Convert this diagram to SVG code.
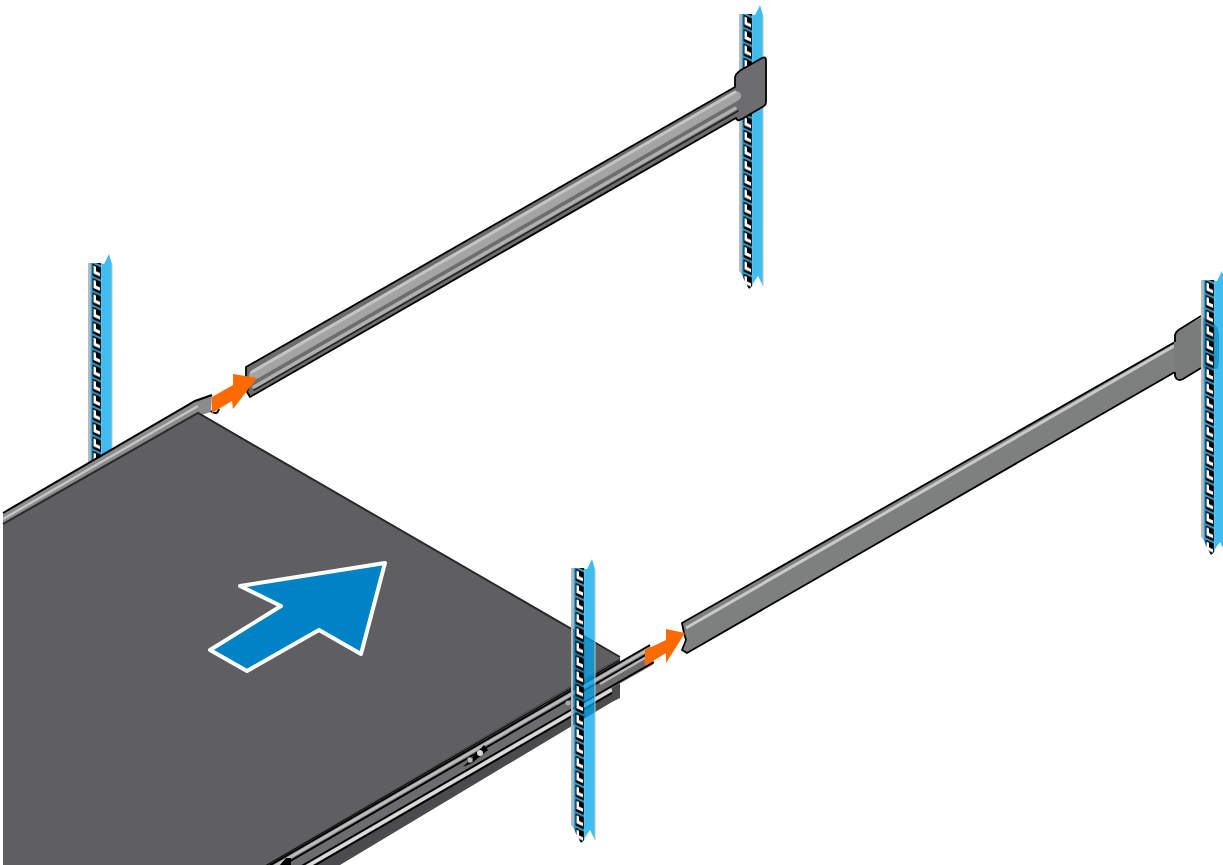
<svg xmlns="http://www.w3.org/2000/svg" width="1223" height="865" viewBox="0 0 1223 865">
<style>
.k{fill:none;stroke:#000}
.orange{fill:#ff6a00}
</style>
<defs>
<clipPath id="railEnd"><path d="M200 640H653L654 664 612 688 612 700 200 940Z"/></clipPath>
<pattern id="holes" width="14" height="14.4" patternUnits="userSpaceOnUse" x="0" y="0">
<path d="M4.500 0.500L12.800 4.200V16.500L4.500 12.800Z M4.500 -13.900L12.800 -10.200V2.100L4.500 -1.600Z" fill="#000"/>
<path d="M5.500 2.500L8 3.600V8.200L12 10V13.400L5.500 10.500Z" fill="#fff"/>
<path d="M5.500 -11.900L8 -10.800V-6.200L12 -4.400V-1L5.500 -3.900Z" fill="#fff"/>
</pattern>
<g id="rackBack">
<path d="M0 0H2.500V260L0 257Z" fill="#b7b9ba"/>
<path d="M2.500 0H13.500V272L10 275 2.500 260Z" fill="#0088c8" fill-opacity=".8"/>
<path d="M13.500 1H16L21 -9 24 1V272L19 262 13.500 270Z" fill="#00a7eb" fill-opacity=".75"/>
<path d="M24 1V272" stroke="#b7c4c9" stroke-width="1" fill="none"/>
</g>
<g id="rackHoles"><path d="M2 0H13V272L10 275 2 260Z" fill="url(#holes)"/></g>
</defs>
<rect width="1223" height="865" fill="#fff"/>

<g id="rack-rear-right">
<use href="#rackBack" x="739" y="14"/>
<use href="#rackHoles" x="739" y="14"/>
</g>
<g id="rack-rear-left">
<use href="#rackBack" x="88" y="263"/>
<use href="#rackHoles" x="88" y="263"/>
</g>

<g id="rail-rear">
<path d="M246 367L735 87V78Q735 74 741 70L762 58Q766 56 766 60V102Q766 105 764 106L742 119Q737 122 736 118L250 397 247 392 251 381 246 377Z" fill="#6d6d6f" stroke="#000" stroke-width="1.800" stroke-linejoin="round"/>
<path d="M254 375L736 96" stroke="#a4a4a5" stroke-width="10" fill="none" stroke-linecap="round"/>
<path d="M252 372L735 92" stroke="#c4c4c5" stroke-width="3" fill="none" stroke-linecap="round"/>
<path d="M254 387L735 108.500" stroke="#b0b0b0" stroke-width="3.500" fill="none" stroke-linecap="round"/>
<path d="M254 390L738 111" stroke="#222" stroke-width="1.500" fill="none" stroke-linecap="round"/>
</g>

<g id="server">
<path d="M3 513L195 401 212 395 211 412 198 416 3 530Z" fill="#8b8b8c"/>
<path d="M3 513L195 401 212 395" class="k" stroke-width="2"/>
<path d="M3 519L198 406" stroke="#c4c4c4" stroke-width="2.500" fill="none"/>
<path d="M211 411Q217 416 219 409" class="k" stroke-width="2"/>
<path d="M620 657V698L612 702 340 865H230L560 690Z" fill="#4b4b4d"/>
<path d="M3 523L198 412 620 657 265 865H3Z" fill="#5f5f61"/>
<path d="M3 524L198 413 620 657" fill="none" stroke="#2a2a2a" stroke-width="2"/>
</g>

<g id="slide-rail">
<g clip-path="url(#railEnd)">
<path d="M240 882.500L650 645 654 665 290 876 240 905Z" fill="#6c6c6e"/>
<path d="M240 880.700L620 660" class="k" stroke-width="1"/>
<path d="M240 880.700L650 643" transform="translate(0,2)" class="k" stroke-width="1.800"/>
<path d="M240 880.700L650 643" transform="translate(0,5.500)" stroke="#bcbcbc" stroke-width="3" fill="none"/>
<path d="M240 880.700L650 643" transform="translate(0,9.500)" class="k" stroke-width="1.800"/>
<path d="M240 880.700L612 665" transform="translate(0,21)" class="k" stroke-width="1.800"/>
<path d="M612 686L654 662" class="k" stroke-width="1.800"/>
<path d="M240 880.700L612 665" transform="translate(0,24.500)" stroke="#dadada" stroke-width="3.500" fill="none"/>
<path d="M600 677L650 648" transform="translate(0,7)" stroke="#b5b5b5" stroke-width="2.500" fill="none"/>
</g>
<path d="M240 880.700L612 665" transform="translate(0,28)" class="k" stroke-width="1.800"/>
<path d="M280 865L286 858 291 858V865Z" fill="#000"/>
<path d="M463 767L484 745 488 750 472 763Z" fill="#000"/>
<circle cx="470" cy="760" r="2.800" fill="#bdbdbd" stroke="#666" stroke-width="1"/>
<circle cx="480" cy="753" r="3" fill="#d8d8d8"/>
<circle cx="568" cy="703" r="2.500" fill="#aaa"/>
</g>

<g id="arrow-main">
<path d="M385 563L240 586 281 606 210 650 247 671 319 630 361 654Z" fill="#0083c4" stroke="#fff" stroke-width="4" stroke-linejoin="round"/>
</g>

<g id="rack-front">
<use href="#rackBack" x="571" y="568"/>
<use href="#rackHoles" x="571" y="568"/>
</g>

<g id="rail-front">
<path d="M682 623L1175 342V372L687 653 682 650 686 640 684 633Z" fill="#7e8080" stroke="#000" stroke-width="1.800" stroke-linejoin="round"/>
<path d="M686 628L1174 346" stroke="#c9c9c9" stroke-width="3" fill="none"/>
<path d="M1174 372V376Q1177 382 1183 379L1201 368 1217 369Q1219 367 1219 360V336Q1219 326 1212 322L1202 317 1180 329Q1174 332 1174 338V342Z" fill="#7a7c7c"/>
<path d="M1175 372V376Q1177 382 1183 379L1201 368M1175 342V336Q1175 332 1180 329L1201 316" class="k" stroke-width="1.800"/>
</g>
<g id="rack-far-right">
<use href="#rackBack" x="1201" y="280"/>
<use href="#rackHoles" x="1201" y="280"/>
</g>

<g id="arrow-rear"><path class="orange" d="M257 378L233 374V385L212 397V413L232 401 233 409Z"/></g>
<g id="arrow-front"><path class="orange" d="M685 633L666 629V640L645 650V666L666 653V663Z"/></g>
</svg>
